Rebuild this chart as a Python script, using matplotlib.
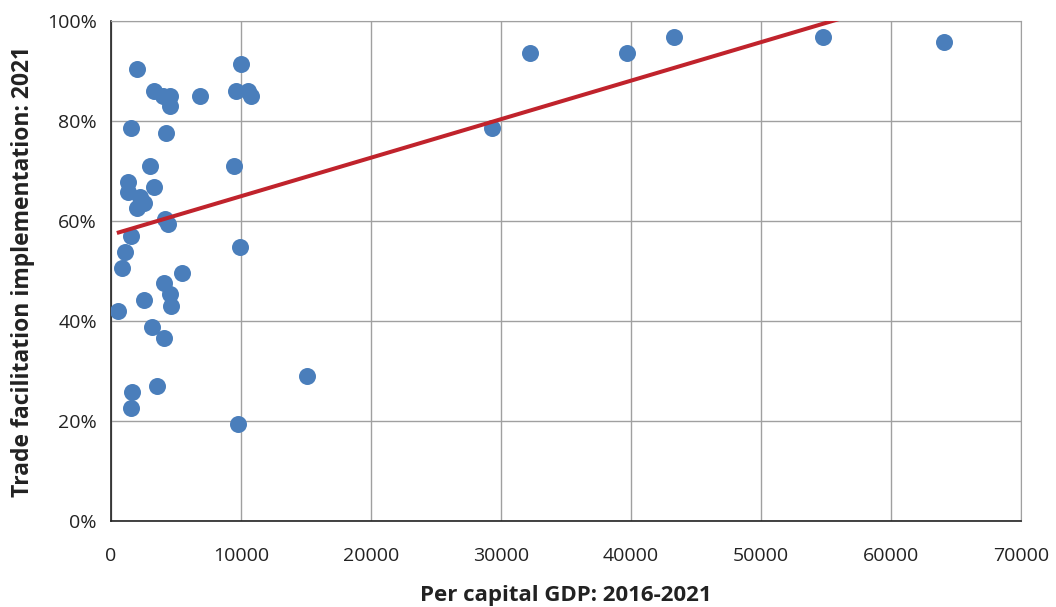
import matplotlib
import numpy as np

matplotlib.use("Agg")
import matplotlib.pyplot as plt

# Per capita GDP (x) and trade facilitation implementation in % (y)
gdp = [515, 850, 1080, 1520, 1280, 1280, 1540, 1980, 1980, 2210, 2510,
       3000, 3330, 3280, 4000, 4530, 4530, 4240, 4150, 4380, 5480, 4100,
       4530, 4660, 2540, 3180, 4100, 1660, 1540, 3560, 9750, 9920, 9440,
       6850, 9640, 10000, 10540, 10800, 15080, 29310, 32230, 39690, 43310,
       54770, 64080]
tfi = [42.0, 50.6, 53.8, 57.0, 67.8, 65.8, 78.6, 90.4, 62.6, 64.8, 63.6,
       71.0, 66.8, 86.0, 85.0, 85.0, 83.0, 77.6, 60.4, 59.4, 49.6, 47.6,
       45.4, 43.0, 44.2, 38.8, 36.6, 25.8, 22.6, 27.0, 19.4, 54.8, 71.0,
       85.0, 86.0, 91.4, 86.0, 85.0, 29.0, 78.6, 93.6, 93.6, 96.8, 96.8,
       95.8]

# linear trend line endpoints
trend_x = [460, 56000]
trend_y = [57.6, 100.4]

xticks = [0, 10000, 20000, 30000, 40000, 50000, 60000, 70000]
yticks = [0, 20, 40, 60, 80, 100]

plt.rcParams['font.family'] = ['Open Sans', 'DejaVu Sans']

fig = plt.figure(figsize=(10.56, 6.07), dpi=100)
ax = fig.add_axes([0.105, 0.1417, 0.862, 0.8237])

ax.scatter(gdp, tfi, s=150, color='#4A7EBB', zorder=3, linewidths=0)
ax.plot(trend_x, trend_y, color='#C0232C', linewidth=2.9, zorder=4,
        solid_capstyle='butt')

ax.set_xlim(0, 70000)
ax.set_ylim(0, 100)
ax.set_xticks(xticks)
ax.set_yticks(yticks)
ax.set_xticklabels([str(v) for v in xticks])
ax.set_yticklabels([f"{v}%" for v in yticks])
ax.tick_params(length=0, labelsize=14, colors='#222222')
ax.tick_params(axis='x', pad=19)
ax.tick_params(axis='y', pad=10)

ax.grid(True, color='#A0A0A0', linewidth=1)
ax.set_axisbelow(True)
for side in ['top', 'right']:
    ax.spines[side].set_color('#A0A0A0')
for side in ['left', 'bottom']:
    ax.spines[side].set_color('#222222')
    ax.spines[side].set_linewidth(1.2)

ax.set_xlabel('Per capital GDP: 2016-2021', fontsize=16, fontweight='bold',
              color='#222222', labelpad=14)
ax.set_ylabel('Trade facilitation implementation: 2021', fontsize=16.5,
              fontweight='bold', color='#222222', labelpad=9)

plt.savefig('out.png', dpi=100)
plt.close()
